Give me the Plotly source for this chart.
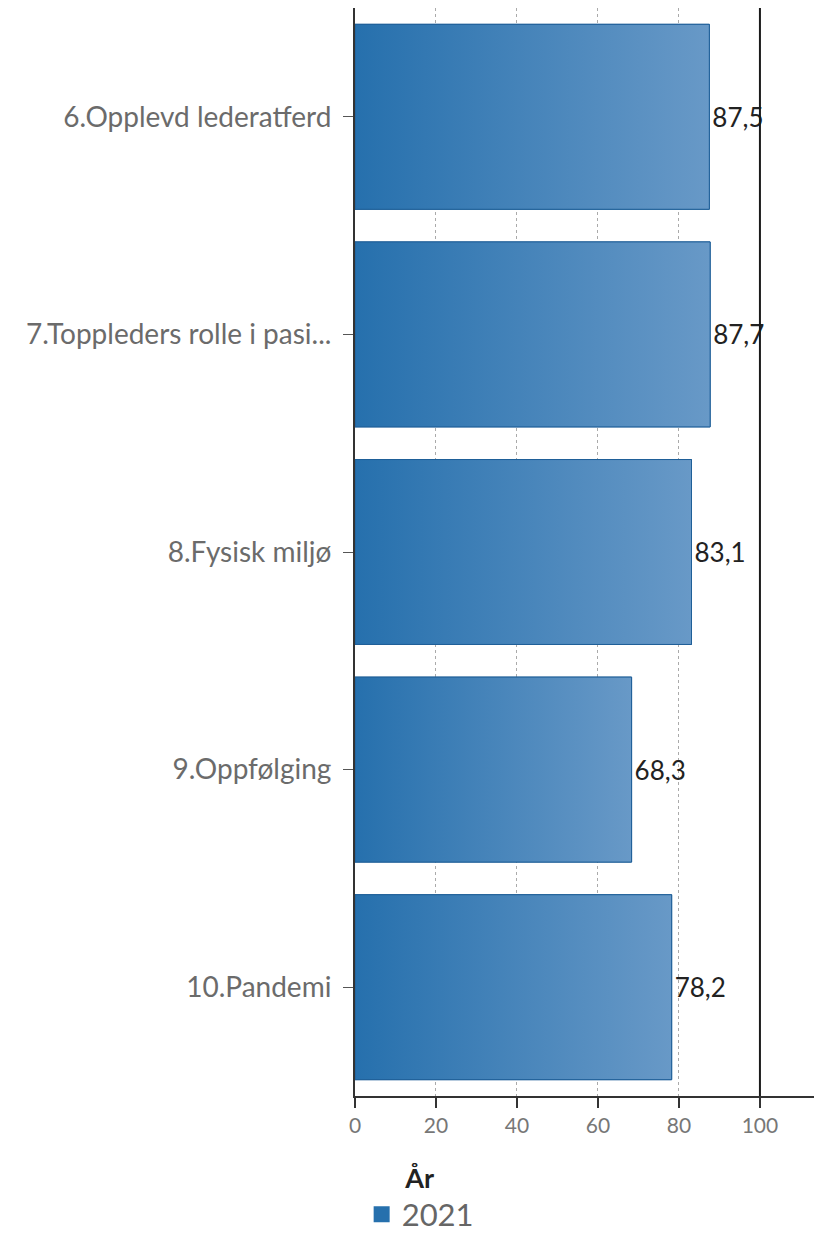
import plotly.graph_objects as go

categories = ["6.Opplevd lederatferd", "7.Toppleders rolle i pasi...", "8.Fysisk miljø",
              "9.Oppfølging", "10.Pandemi"]
values = [87.5, 87.7, 83.1, 68.3, 78.2]
series_name = "2021"
x_ticks = [0, 20, 40, 60, 80, 100]

BAR_W = 0.85
C0, C1 = "#2670ad", "#6899c7"
EDGE = "#1f5f98"

idx = list(range(len(categories)))
fig = go.Figure()

# base bar (value labels)
fig.add_trace(go.Bar(
    x=values, y=idx, orientation="h", width=BAR_W, name=series_name,
    marker=dict(color=C0, line=dict(color=EDGE, width=1)),
    texttemplate="%{x:.1f}", textposition="outside",
    textfont=dict(size=26, color="#222222", family="Lato"),
    cliponaxis=False, showlegend=False,
))

# gradient overlay for each bar, built from the data values
for i, v in zip(idx, values):
    y0, y1 = i - BAR_W / 2, i + BAR_W / 2
    fig.add_trace(go.Scatter(
        x=[0, v, v, 0, 0], y=[y0, y0, y1, y1, y0], mode="lines", fill="toself",
        fillgradient=dict(type="horizontal", colorscale=[[0, C0], [1, C1]]),
        line=dict(color=EDGE, width=1), showlegend=False, hoverinfo="skip",
    ))

# legend entry
fig.add_trace(go.Scatter(x=[None], y=[None], mode="markers", name=series_name,
                         marker=dict(symbol="square", size=19, color=C0)))

fig.add_shape(type="line", xref="x", yref="paper", x0=100, x1=100, y0=0, y1=1,
              line=dict(color="#1a1a1a", width=2), layer="above")

fig.update_layout(
    width=822, height=1260,
    margin=dict(l=347, r=0, t=0, b=172, pad=0),
    plot_bgcolor="white", paper_bgcolor="white",
    separators=", ",
    font=dict(family="Lato", color="#666666"),
    showlegend=True,
    legend=dict(orientation="h", x=0.014, y=-0.052, xanchor="left", yanchor="top",
                title=dict(text="<b>År</b>", side="top center",
                           font=dict(size=27, color="#222222")),
                font=dict(size=31, color="#666666")),
    xaxis=dict(range=[0, 117.3], tickvals=x_ticks, ticks="outside", ticklen=10,
               tickcolor="#333333", tickwidth=1.5,
               showline=True, linecolor="#333333", linewidth=2,
               showgrid=True, gridcolor="#aaaaaa", griddash="dot", gridwidth=1,
               zeroline=False, tickfont=dict(size=21, color="#777777")),
    yaxis=dict(range=[len(categories) - 0.5, -0.5], tickvals=idx, ticktext=categories,
               ticks="outside", ticklen=10, tickcolor="#555555",
               ticklabelstandoff=6,
               showline=True, linecolor="#333333", linewidth=2,
               showgrid=False, zeroline=False,
               tickfont=dict(size=28, color="#6b6b6b")),
)

fig.write_html("out.html",
               post_script="document.documentElement.style.overflow='hidden';"
                           "document.body.style.overflow='hidden';")
